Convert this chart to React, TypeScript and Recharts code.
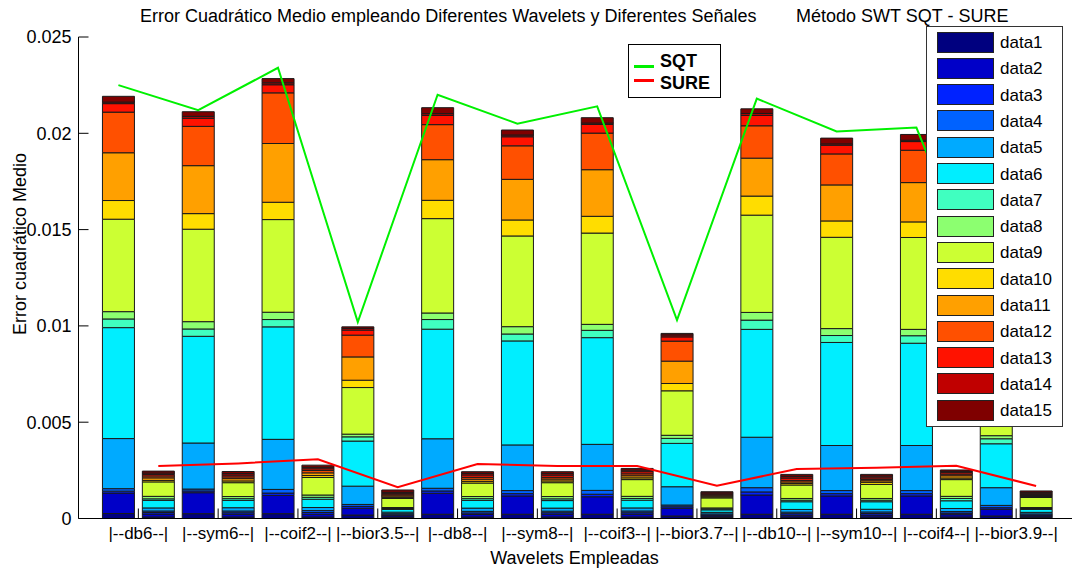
import { ComposedChart, Bar, Line, XAxis, YAxis } from 'recharts'

// wavelet families, two bars each (SQT then SURE)
const wavelets = ['db6', 'sym6', 'coif2', 'bior3.5', 'db8', 'sym8', 'coif3', 'bior3.7', 'db10', 'sym10', 'coif4', 'bior3.9']
const groupLabels = wavelets.map((w) => `|--${w}--|`)
const groupTicks = [1.5, 3.5, 5.5, 7.5, 9.5, 11.5, 13.5, 15.5, 17.5, 19.5, 21.5, 23.5]
const yTicks = [0, 0.005, 0.01, 0.015, 0.02, 0.025]
const yTickLabels = ['0', '0.005', '0.01', '0.015', '0.02', '0.025']

// stacked error per signal, 24 bars: SQT, SURE, SQT, SURE ...
const data1 = [0.00026, 0.00008, 0.00025, 0.00008, 0.00025, 0.00008, 0.00018, 0.00006, 0.00022, 0.00008, 0.00022, 0.00008, 0.00022, 0.00008, 0.00013, 0.00006, 0.00022, 0.00008, 0.00022, 0.00008, 0.00022, 0.00008, 0.00013, 0.00006]
const data2 = [0.00106, 0.00015, 0.00109, 0.00014, 0.00095, 0.00014, 0.00035, 0.00008, 0.00109, 0.00013, 0.00095, 0.00014, 0.00091, 0.00014, 0.0004, 0.00007, 0.001, 0.00009, 0.00095, 0.0001, 0.00095, 0.00012, 0.00035, 0.00007]
const data3 = [0.0001, 0.00008, 0.00009, 0.00008, 0.00012, 0.00009, 0.0001, 0.00005, 0.00012, 0.00008, 0.00012, 0.00008, 0.00013, 0.00008, 0.00008, 0.00005, 0.00016, 0.00008, 0.00012, 0.00008, 0.00012, 0.00008, 0.00008, 0.00005]
const data4 = [0.00013, 0.00008, 0.0001, 0.00009, 0.00019, 0.0001, 0.0001, 0.00006, 0.00014, 0.00008, 0.00016, 0.00008, 0.0002, 0.00009, 0.00009, 0.00006, 0.00022, 0.00008, 0.00016, 0.00008, 0.00016, 0.00008, 0.00012, 0.00006]
const data5 = [0.0026, 0.00016, 0.00239, 0.00017, 0.0026, 0.00016, 0.00095, 0.00008, 0.00257, 0.00017, 0.00237, 0.00016, 0.00239, 0.00016, 0.00095, 0.00008, 0.00262, 0.00014, 0.00234, 0.00014, 0.00234, 0.00016, 0.00092, 0.00008]
const data6 = [0.00576, 0.00039, 0.00554, 0.00038, 0.00584, 0.00043, 0.00234, 0.00014, 0.00569, 0.0004, 0.0054, 0.00039, 0.00554, 0.0004, 0.00225, 0.00013, 0.0056, 0.0004, 0.00535, 0.00039, 0.00531, 0.0004, 0.00228, 0.00015]
const data7 = [0.00045, 0.00008, 0.00038, 0.00009, 0.00038, 0.0001, 0.00022, 0.00005, 0.0005, 0.00009, 0.00036, 0.00009, 0.00038, 0.00009, 0.00026, 0.00005, 0.00048, 0.00008, 0.00036, 0.00008, 0.00039, 0.00012, 0.00026, 0.00005]
const data8 = [0.00038, 0.00013, 0.00038, 0.00011, 0.00038, 0.00012, 0.00014, 0.00005, 0.00034, 0.00011, 0.00038, 0.00012, 0.00031, 0.00011, 0.00016, 0.00005, 0.0004, 0.00009, 0.00036, 0.00009, 0.00033, 0.00011, 0.00016, 0.00005]
const data9 = [0.0048, 0.00075, 0.0048, 0.00072, 0.00481, 0.00091, 0.00242, 0.00047, 0.0049, 0.0007, 0.00471, 0.00072, 0.00474, 0.00087, 0.00231, 0.00052, 0.00505, 0.0007, 0.00474, 0.00073, 0.00477, 0.00087, 0.0023, 0.00052]
const data10 = [0.00097, 0.00008, 0.00081, 0.00009, 0.0009, 0.0001, 0.00038, 0.00006, 0.00095, 0.00009, 0.00083, 0.00009, 0.00087, 0.00009, 0.00038, 0.00005, 0.00099, 0.00008, 0.00085, 0.00011, 0.00081, 0.00008, 0.00038, 0.00005]
const data11 = [0.00248, 0.00013, 0.00249, 0.00012, 0.00305, 0.00014, 0.00121, 0.00007, 0.00211, 0.00011, 0.00211, 0.0001, 0.00242, 0.00011, 0.00116, 0.00005, 0.00197, 0.00008, 0.00187, 0.00008, 0.00204, 0.00012, 0.00115, 0.00005]
const data12 = [0.00211, 0.0001, 0.00204, 0.00009, 0.00263, 0.00012, 0.00113, 0.00006, 0.00182, 0.0001, 0.00174, 0.00009, 0.0019, 0.0001, 0.00104, 0.00005, 0.00168, 0.00008, 0.00161, 0.00007, 0.00168, 0.00008, 0.00104, 0.00005]
const data13 = [0.00044, 0.00008, 0.00042, 0.00009, 0.00042, 0.00009, 0.00026, 0.00006, 0.00048, 0.00012, 0.00047, 0.00011, 0.00045, 0.00011, 0.00022, 0.00005, 0.00054, 0.00012, 0.00045, 0.00008, 0.00045, 0.00008, 0.00022, 0.00005]
const data14 = [0.00008, 0.00007, 0.0001, 0.00008, 0.0001, 0.00008, 0.00009, 0.00007, 0.00009, 0.00008, 0.00009, 0.00008, 0.00007, 0.00008, 0.0001, 0.00006, 0.0001, 0.00009, 0.00007, 0.00009, 0.00007, 0.00007, 0.0001, 0.00007]
const data15 = [0.0003, 0.0001, 0.00024, 0.00011, 0.00022, 0.00011, 0.00008, 0.00012, 0.00031, 0.00009, 0.00026, 0.0001, 0.00028, 0.00009, 0.00008, 0.00006, 0.00024, 0.0001, 0.0003, 0.00009, 0.0003, 0.00007, 0.00008, 0.00007]

// mean squared error per wavelet for each threshold rule
const sqtError = [0.0225, 0.0212, 0.0234, 0.0102, 0.022, 0.0205, 0.0214, 0.0103, 0.0218, 0.0201, 0.0203, 0.0101]
const sureError = [0.00272, 0.00286, 0.00307, 0.00162, 0.00283, 0.00272, 0.00272, 0.0017, 0.00257, 0.00264, 0.00274, 0.00169]

const SERIES = [data1, data2, data3, data4, data5, data6, data7, data8, data9, data10, data11, data12, data13, data14, data15]
const SERIES_NAMES = SERIES.map((_, k) => `data${k + 1}`)
const SEG_COLORS = [
  '#00007f', '#0000c8', '#0022ff', '#0062ff', '#00aaff', '#00eeff', '#40ffc0', '#8cff70',
  '#ccff33', '#ffdd00', '#ffa000', '#ff5000', '#ff1200', '#c00000', '#7f0000',
]

const rows = Array.from({ length: SERIES[0].length }, (_, i) => {
  const row: Record<string, number | null> = { pos: i + 1 }
  SERIES.forEach((s, k) => {
    row[SERIES_NAMES[k]] = s[i]
  })
  row.sqt = i % 2 === 0 ? sqtError[i / 2] : null
  row.sure = i % 2 === 1 ? sureError[(i - 1) / 2] : null
  return row
})

const FONT = '"Liberation Sans", Arial, Helvetica, sans-serif'

// matlab style ticks: marks point inward
const BottomTick = (p: any) => (
  <g>
    <line x1={p.x} x2={p.x} y1={p.y} y2={p.y - 10} stroke="#000" />
    <text x={p.x} y={p.y + 14.5} dy="0.35em" textAnchor="middle" fontSize={17} fontFamily={FONT} fill="#000">
      {groupLabels[p.index]}
    </text>
  </g>
)
const TopTick = (p: any) => <line x1={p.x} x2={p.x} y1={p.y} y2={p.y + 10} stroke="#000" />
const LeftTick = (p: any) => (
  <g>
    <line x1={p.x + 7} x2={p.x + 17} y1={p.y} y2={p.y} stroke="#000" />
    <text x={p.x} y={p.y} dy="0.35em" textAnchor="end" fontSize={18} fontFamily={FONT} fill="#000">
      {yTickLabels[p.index]}
    </text>
  </g>
)
const RightTick = (p: any) => <line x1={p.x - 10} x2={p.x} y1={p.y} y2={p.y} stroke="#000" />

export default function App() {
  return (
    <div style={{ position: 'absolute', left: 0, top: 0, width: 1072, height: 571, overflow: 'hidden', background: '#fff', fontFamily: FONT, color: '#000' }}>
      <ComposedChart width={1076} height={571} data={rows} barSize={32} margin={{ top: 37, right: 0, bottom: 0, left: 0 }}>
        <XAxis dataKey="pos" type="number" domain={[0, 25]} allowDataOverflow ticks={groupTicks} interval={0} height={52.5} tickSize={0} tickMargin={0} axisLine={{ stroke: '#000' }} tick={BottomTick} />
        <XAxis xAxisId="top" orientation="top" type="number" domain={[0, 25]} allowDataOverflow ticks={groupTicks} interval={0} height={0} tickSize={0} tickMargin={0} axisLine={{ stroke: '#000' }} tick={TopTick} />
        <YAxis type="number" domain={[0, 0.025]} allowDataOverflow ticks={yTicks} interval={0} width={78.5} tickSize={0} tickMargin={7} axisLine={{ stroke: '#000' }} tick={LeftTick} />
        <YAxis yAxisId="right" orientation="right" type="number" domain={[0, 0.025]} allowDataOverflow ticks={yTicks} interval={0} width={0} tickSize={0} tickMargin={0} axisLine={{ stroke: '#000' }} tick={RightTick} />
        {SERIES_NAMES.map((name, k) => (
          <Bar key={name} dataKey={name} stackId="err" fill={SEG_COLORS[k]} stroke="#1a1a1a" strokeWidth={1} isAnimationActive={false} />
        ))}
        <Line dataKey="sqt" stroke="#00f000" strokeWidth={2} dot={false} connectNulls type="linear" isAnimationActive={false} />
        <Line dataKey="sure" stroke="#ff0000" strokeWidth={2} dot={false} connectNulls type="linear" isAnimationActive={false} />
      </ComposedChart>

      <div style={{ position: 'absolute', left: 140, top: 16, transform: 'translateY(-50%)', fontSize: 18, whiteSpace: 'nowrap' }}>
        Error Cuadrático Medio empleando Diferentes Wavelets y Diferentes Señales
      </div>
      <div style={{ position: 'absolute', left: 796, top: 16, transform: 'translateY(-50%)', fontSize: 18, whiteSpace: 'nowrap' }}>
        Método SWT SQT - SURE
      </div>
      <div style={{ position: 'absolute', left: 20, top: 244, transform: 'translate(-50%, -50%) rotate(-90deg)', fontSize: 18, whiteSpace: 'nowrap' }}>
        Error cuadrático Medio
      </div>
      <div style={{ position: 'absolute', left: 574.5, top: 558, transform: 'translate(-50%, -50%)', fontSize: 18, whiteSpace: 'nowrap' }}>
        Wavelets Empleadas
      </div>

      {/* threshold rule legend */}
      <div style={{ position: 'absolute', left: 628, top: 44, width: 93, height: 54, border: '1px solid #000', background: '#fff', boxSizing: 'border-box' }}>
        <div style={{ position: 'absolute', left: 5, top: 20, width: 20, height: 2.5, background: '#00f000' }} />
        <div style={{ position: 'absolute', left: 5, top: 34, width: 20, height: 2.5, background: '#ff0000' }} />
        <div style={{ position: 'absolute', left: 31, top: 16, transform: 'translateY(-50%)', fontSize: 18, fontWeight: 700, lineHeight: 1 }}>SQT</div>
        <div style={{ position: 'absolute', left: 31, top: 38, transform: 'translateY(-50%)', fontSize: 18, fontWeight: 700, lineHeight: 1 }}>SURE</div>
      </div>

      {/* signal legend */}
      <div style={{ position: 'absolute', left: 926, top: 26, width: 137, height: 401, border: '1px solid #333', background: '#fff', boxSizing: 'border-box' }}>
        {SERIES_NAMES.map((name, k) => (
          <div key={name}>
            <div style={{ position: 'absolute', left: 10, top: 4.5 + k * 26.3, width: 57, height: 21, background: SEG_COLORS[k], border: '1.5px solid #222', boxSizing: 'border-box' }} />
            <div style={{ position: 'absolute', left: 73, top: 15 + k * 26.3, transform: 'translateY(-50%)', fontSize: 17, lineHeight: 1 }}>{name}</div>
          </div>
        ))}
      </div>
    </div>
  )
}
